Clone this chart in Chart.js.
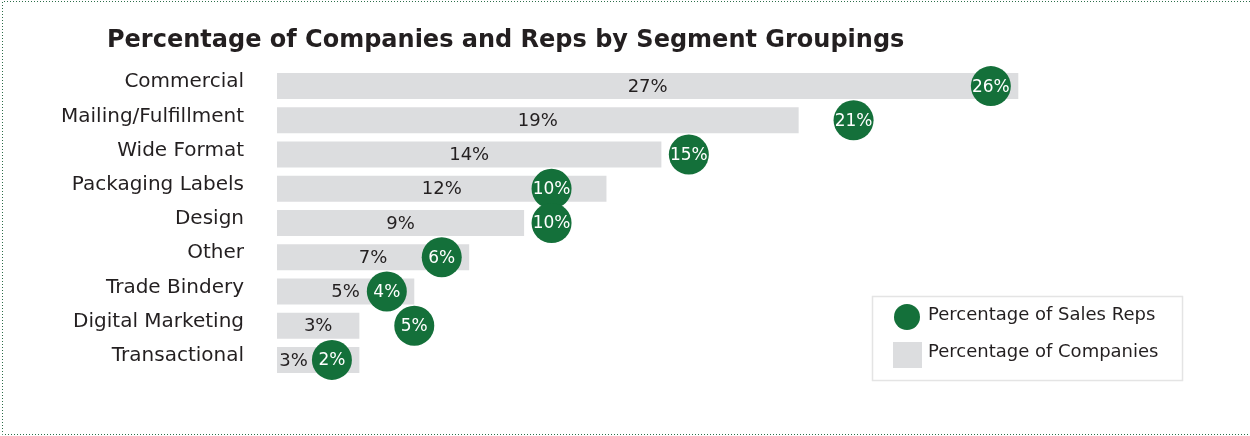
<!DOCTYPE html>
<html>
<head>
<meta charset="utf-8">
<script src="https://cdn.jsdelivr.net/npm/chart.js@4"></script>
<style>
  html, body { margin: 0; padding: 0; background: #fff; }
  canvas { display: block; }
</style>
</head>
<body>
<canvas id="grafico" width="1250" height="436"></canvas>
<script>
const titulo = "Percentage of Companies and Reps by Segment Groupings";
const segmentos = ["Commercial", "Mailing/Fulfillment", "Wide Format", "Packaging Labels", "Design", "Other", "Trade Bindery", "Digital Marketing", "Transactional"];
const pctEmpresas = [27, 19, 14, 12, 9, 7, 5, 3, 3];
const pctVendedores = [26, 21, 15, 10, 10, 6, 4, 5, 2];
const nombreVendedores = "Percentage of Sales Reps";
const nombreEmpresas = "Percentage of Companies";

const VERDE = "#14703a";
const GRIS = "#dcdddf";
const TEXTO = "#231f20";
const FUENTE = "'DejaVu Sans', sans-serif";
const RADIO = 20;

// marco punteado y titulo
const pluginMarco = {
  id: "marco",
  beforeDraw(chart) {
    const ctx = chart.ctx;
    ctx.save();
    ctx.strokeStyle = "#2d6e4a";
    ctx.lineWidth = 1;
    ctx.setLineDash([1, 2]);
    ctx.beginPath();
    ctx.moveTo(1250, 1.5);
    ctx.lineTo(2.5, 1.5);
    ctx.lineTo(2.5, 434.5);
    ctx.lineTo(1250, 434.5);
    ctx.stroke();
    ctx.restore();
  },
  afterDraw(chart) {
    const ctx = chart.ctx;
    ctx.save();
    ctx.font = "bold 24px " + FUENTE;
    ctx.fillStyle = TEXTO;
    ctx.textAlign = "left";
    ctx.fillText(titulo, 107, 47);
    ctx.restore();
  }
};

// etiquetas de valor: en la barra y dentro del circulo
const pluginEtiquetas = {
  id: "etiquetas",
  afterDatasetDraw(chart, args) {
    const ctx = chart.ctx;
    const meta = args.meta;
    ctx.save();
    ctx.textAlign = "center";
    ctx.textBaseline = "middle";
    if (meta.type === "bar") {
      const puntos = chart.getDatasetMeta(0).data;
      ctx.font = "18px " + FUENTE;
      ctx.fillStyle = TEXTO;
      meta.data.forEach((el, i) => {
        const txt = pctEmpresas[i] + "%";
        const mitad = ctx.measureText(txt).width / 2;
        let x = (el.x + el.base) / 2;
        // si el circulo tapa la etiqueta, se corre a la izquierda
        const limite = puntos[i].x - RADIO - mitad - 4;
        if (Math.abs(x - puntos[i].x) < RADIO + mitad) x = Math.min(x, limite);
        ctx.fillText(txt, x, el.y + 1);
      });
    } else {
      ctx.font = "17px " + FUENTE;
      ctx.fillStyle = "#fff";
      meta.data.forEach((el, i) => {
        ctx.fillText(pctVendedores[i] + "%", el.x, el.y + 1);
      });
    }
    ctx.restore();
  }
};

// leyenda con recuadro abajo a la derecha
const pluginLeyenda = {
  id: "leyendaCaja",
  afterDraw(chart) {
    const ctx = chart.ctx;
    ctx.save();
    ctx.strokeStyle = "#e4e4e4";
    ctx.lineWidth = 1.5;
    ctx.strokeRect(872.5, 296.5, 310, 84);

    ctx.fillStyle = VERDE;
    ctx.beginPath();
    ctx.arc(907, 317, 13, 0, Math.PI * 2);
    ctx.fill();

    ctx.fillStyle = GRIS;
    ctx.fillRect(893, 342, 29, 26);

    ctx.font = "18px " + FUENTE;
    ctx.fillStyle = TEXTO;
    ctx.textAlign = "left";
    ctx.textBaseline = "middle";
    ctx.fillText(nombreVendedores, 928, 315);
    ctx.fillText(nombreEmpresas, 928, 352);
    ctx.restore();
  }
};

new Chart(document.getElementById("grafico"), {
  type: "bar",
  data: {
    labels: segmentos,
    datasets: [
      {
        type: "line",
        label: nombreVendedores,
        data: pctVendedores,
        showLine: false,
        pointRadius: RADIO,
        pointHoverRadius: RADIO,
        pointBackgroundColor: VERDE,
        pointBorderWidth: 0,
        clip: false,
        order: 0
      },
      {
        label: nombreEmpresas,
        data: pctEmpresas,
        backgroundColor: GRIS,
        categoryPercentage: 1,
        barPercentage: 0.76,
        order: 1
      }
    ]
  },
  options: {
    indexAxis: "y",
    responsive: false,
    animation: false,
    layout: { padding: { top: 69, bottom: 59, left: 0, right: 45 } },
    scales: {
      x: { min: 0, max: 33.8, display: false },
      y: {
        grid: { display: false, drawTicks: false },
        border: { display: false },
        ticks: { color: TEXTO, font: { family: FUENTE, size: 20 }, padding: 33, labelOffset: -4 },
        afterFit(scale) { scale.width = 277; }
      }
    },
    plugins: {
      legend: { display: false },
      tooltip: { enabled: false }
    }
  },
  plugins: [pluginMarco, pluginEtiquetas, pluginLeyenda]
});
</script>
</body>
</html>
